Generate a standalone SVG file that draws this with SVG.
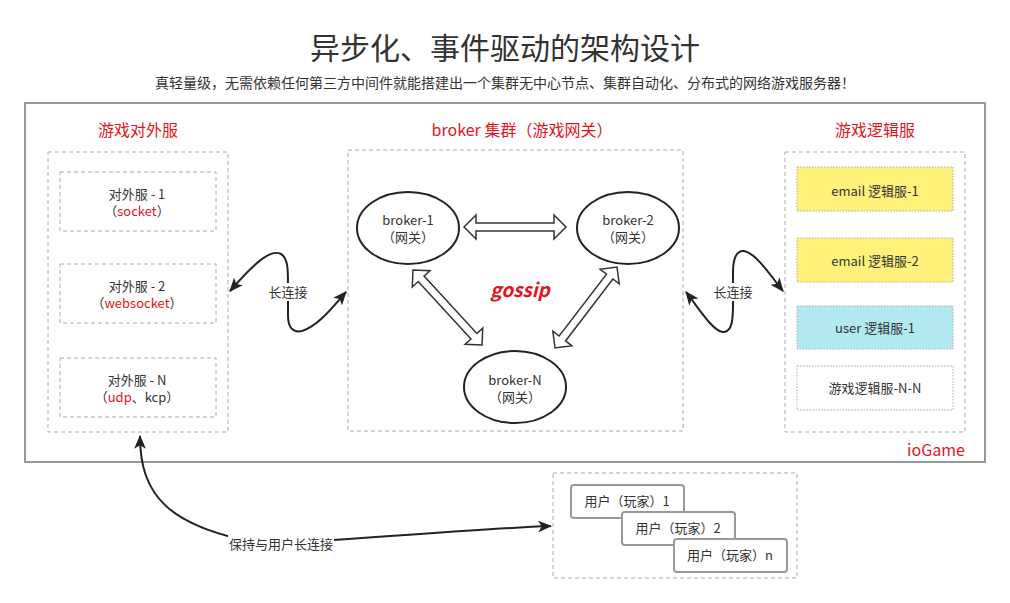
<svg xmlns="http://www.w3.org/2000/svg" xmlns:xlink="http://www.w3.org/1999/xlink" width="1010" height="603" viewBox="0 0 1010 603">
<defs>
<style>
text{font-family:"Noto Sans CJK SC","Noto Sans",sans-serif;fill:#333;}
.t13{font-size:13px;text-anchor:middle;}
.red{fill:#e3141d;}
.sec{font-size:16px;text-anchor:middle;fill:#e3141d;}
.dash{fill:#fff;stroke:#aaa;stroke-width:1;stroke-dasharray:4 3;}
.dot{stroke:#aaa;stroke-width:1;stroke-dasharray:1.5 1.5;}
.ell{fill:#fff;stroke:#222;stroke-width:2;}
.user{fill:#fff;stroke:#999;stroke-width:2;}
.edge{fill:none;stroke:#222;stroke-width:2;}
.flex{fill:#fff;stroke:#333;stroke-width:1.5;stroke-linejoin:miter;}
</style>
<marker id="ah" viewBox="0 0 12 10" refX="11" refY="5" markerWidth="14" markerHeight="12" markerUnits="userSpaceOnUse" orient="auto-start-reverse">
<path d="M0,0 L12,5 L0,10 L3,5 Z" fill="#222"/>
</marker>
<polygon id="dbl" points="0,0 12,-12 12,-4 90,-4 90,-12 102,0 90,12 90,4 12,4 12,12"/>
</defs>
<rect x="0" y="0" width="1010" height="603" fill="#fff"/>

<g id="title">
<text x="505" y="59" style="font-size:30px;text-anchor:middle;">异步化、事件驱动的架构设计</text>
<text x="505" y="88" style="font-size:14px;text-anchor:middle;">真轻量级，无需依赖任何第三方中间件就能搭建出一个集群无中心节点、集群自动化、分布式的网络游戏服务器！</text>
</g>

<g id="ioGame">
<rect x="25" y="103" width="960" height="359" fill="#fff" stroke="#999" stroke-width="2"/>
<text x="936" y="456" style="font-size:16px;text-anchor:middle;" class="red">ioGame</text>
</g>

<g id="external">
<text x="138" y="136" class="sec">游戏对外服</text>
<rect x="48" y="152" width="180" height="280" class="dash"/>
</g>
<g id="ext1">
<rect x="60" y="172" width="156" height="59" class="dash"/>
<text x="137" y="199" class="t13">对外服 - 1</text>
<text x="137" y="216" class="t13">（<tspan class="red">socket</tspan>）</text>
</g>
<g id="ext2">
<rect x="60" y="264" width="156" height="59" class="dash"/>
<text x="137" y="291" class="t13">对外服 - 2</text>
<text x="137" y="308" class="t13">（<tspan class="red">websocket</tspan>）</text>
</g>
<g id="extN">
<rect x="60" y="358" width="156" height="59" class="dash"/>
<text x="137" y="385" class="t13">对外服 - N</text>
<text x="137" y="402" class="t13">（<tspan class="red">udp</tspan>、kcp）</text>
</g>

<g id="broker-cluster">
<text x="522" y="136" class="sec">broker 集群（游戏网关）</text>
<rect x="348" y="150" width="335" height="281" class="dash"/>
<text x="520" y="297" style="font-size:19px;font-weight:bold;font-style:italic;text-anchor:middle;" class="red">gossip</text>
</g>
<g id="broker1">
<ellipse cx="408" cy="228" rx="51" ry="36" class="ell"/>
<text x="408" y="225" class="t13">broker-1</text>
<text x="408" y="242" class="t13">（网关）</text>
</g>
<g id="broker2">
<ellipse cx="628" cy="228" rx="51" ry="36" class="ell"/>
<text x="628" y="225" class="t13">broker-2</text>
<text x="628" y="242" class="t13">（网关）</text>
</g>
<g id="brokerN">
<ellipse cx="515" cy="387" rx="51" ry="36" class="ell"/>
<text x="515" y="385" class="t13">broker-N</text>
<text x="515" y="402" class="t13">（网关）</text>
</g>

<g id="logic">
<text x="875" y="136" class="sec">游戏逻辑服</text>
<rect x="785" y="152" width="180" height="280" class="dash"/>
</g>
<g id="logic1">
<rect x="797" y="167" width="156" height="44" fill="#fff17a" class="dot"/>
<text x="875" y="196" class="t13">email 逻辑服-1</text>
</g>
<g id="logic2">
<rect x="797" y="238" width="156" height="44" fill="#fff17a" class="dot"/>
<text x="875" y="266" class="t13">email 逻辑服-2</text>
</g>
<g id="logic3">
<rect x="797" y="306" width="156" height="43" fill="#b2e9f1" class="dot"/>
<text x="875" y="333" class="t13">user 逻辑服-1</text>
</g>
<g id="logic4">
<rect x="797" y="366" width="156" height="44" fill="#fff" class="dot"/>
<text x="875" y="393" class="t13">游戏逻辑服-N-N</text>
</g>

<g id="users">
<rect x="553" y="473" width="244" height="105" class="dash"/>
</g>
<g id="user1">
<rect x="571" y="485" width="113" height="33" rx="3" class="user"/>
<text x="627" y="506" class="t13">用户（玩家）1</text>
</g>
<g id="user2">
<rect x="622" y="512" width="113" height="33" rx="3" class="user"/>
<text x="678" y="533" class="t13">用户（玩家）2</text>
</g>
<g id="userN">
<rect x="674" y="539" width="113" height="33" rx="3" class="user"/>
<text x="730" y="560" class="t13">用户（玩家）n</text>
</g>

<g id="connectors">
<use xlink:href="#dbl" href="#dbl" class="flex" transform="translate(464,227)"/>
<use xlink:href="#dbl" href="#dbl" class="flex" transform="translate(413,270) rotate(47.4)"/>
<use xlink:href="#dbl" href="#dbl" class="flex" transform="translate(617,267) rotate(127.4)"/>

<path class="edge" d="M 230 291 C 252 266, 270 248, 281 254 C 288 258, 288 270, 288 285 L 288 315 C 288 328, 293 333, 302 331 C 318 326, 332 308, 346 292" marker-start="url(#ah)" marker-end="url(#ah)"/>
<rect x="266" y="283" width="44" height="18" fill="#fff"/>
<text x="288" y="297" class="t13">长连接</text>

<path class="edge" d="M 686 292 C 700 310, 714 333, 724 332 C 732 331, 733 320, 733 305 L 733 272 C 733 258, 737 250, 744 251 C 756 253, 770 275, 783 291" marker-start="url(#ah)" marker-end="url(#ah)"/>
<rect x="711" y="283" width="44" height="18" fill="#fff"/>
<text x="733" y="297" class="t13">长连接</text>

<path class="edge" d="M 140 436 C 140 495, 168 528, 265 544 C 380 538, 470 529, 551 526" marker-start="url(#ah)" marker-end="url(#ah)"/>
<rect x="228" y="535" width="106" height="18" fill="#fff"/>
<text x="281" y="549" class="t13">保持与用户长连接</text>
</g>
</svg>
